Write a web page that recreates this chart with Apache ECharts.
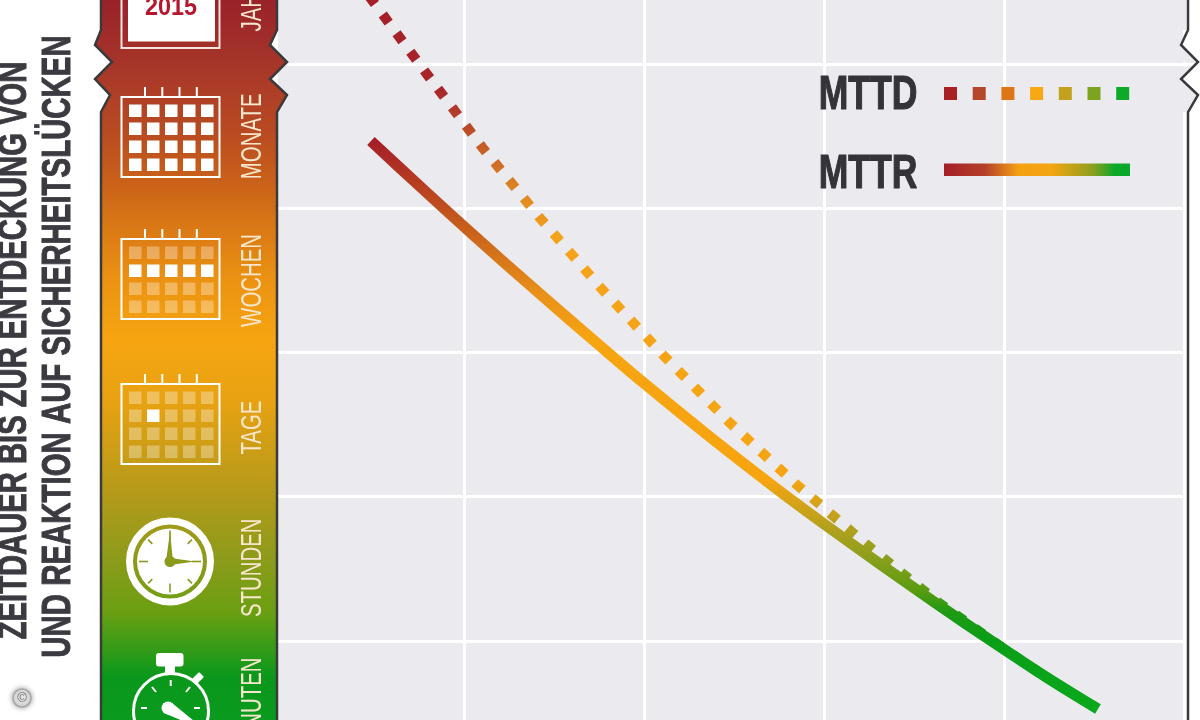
<!DOCTYPE html>
<html>
<head>
<meta charset="utf-8">
<style>html,body{margin:0;padding:0;background:#fff}#c{width:1200px;height:720px}</style>
<script src="https://cdn.jsdelivr.net/npm/echarts@6/dist/echarts.min.js"></script>
</head>
<body>
<div id="c"></div>
<script>
// ---- data ----
const timeLabels = ['MINUTEN', 'STUNDEN', 'TAGE', 'WOCHEN', 'MONATE', 'JAHRE'];
const mttrX = [0.483, 0.756, 1.017, 1.422, 1.756, 1.994, 2.367, 2.739, 3.017, 3.311, 3.628, 3.939, 4.239, 4.522];
const mttrY = [4.467, 4.151, 3.854, 3.406, 3.046, 2.793, 2.414, 2.053, 1.796, 1.533, 1.255, 0.992, 0.745, 0.527];
const mttdX = [0.472, 0.789, 1.100, 1.422, 1.761, 2.111, 2.472, 2.844, 3.233, 3.633, 3.978, 4.256];
const mttdY = [5.473, 4.939, 4.425, 3.933, 3.447, 2.976, 2.518, 2.088, 1.672, 1.269, 0.964, 0.728];
const seriesNames = ['MTTD', 'MTTR'];
const titleLines = ['ZEITDAUER BIS ZUR ENTDECKUNG VON', 'UND REAKTION AUF SICHERHEITSLÜCKEN'];
const calendarYear = '2015';

// ---- helpers ----
const FONT = '"Liberation Sans",sans-serif';
const zip = (a, b) => a.map((v, i) => [v, b[i]]);
const ramp = stops => ({type: 'linear', x: 0, y: 0, x2: 0, y2: 720, global: true,
  colorStops: stops.map(s => ({offset: s[0] / 720, color: s[1]}))});
const barRamp = ramp([[0,'#99222a'],[60,'#a5342a'],[130,'#b84a22'],[190,'#cc6518'],[280,'#eb9212'],[340,'#f6a511'],[400,'#e8a212'],[493,'#b49a1a'],[560,'#8c9b1a'],[613,'#6a9f12'],[677,'#0a981c'],[720,'#0a9a1e']]);
const mttrRamp = ramp([[141,'#a51e28'],[230,'#c8601a'],[293,'#e8901a'],[340,'#f6a511'],[480,'#f6a511'],[530,'#b0a01e'],[559,'#8a9f1c'],[590,'#5a9c10'],[612,'#1f9a14'],[640,'#0a9e16'],[710,'#0aa81c']]);
const mttdRamp = ramp([[0,'#a51e28'],[90,'#a8262a'],[128,'#bb4a28'],[183,'#d98022'],[236,'#f5a31a'],[480,'#f6a511'],[530,'#b0a01e'],[559,'#8a9f1c'],[590,'#5a9c10'],[612,'#1f9a14'],[640,'#0a9e16'],[710,'#0aa81c']]);

const els = [];
const Z = 3;
function rect(x, y, w, h, fill, extra) { els.push(Object.assign({type:'rect', z:Z, shape:{x,y,width:w,height:h}, style:{fill}}, extra||{})); }
function line(x1,y1,x2,y2,stroke,w,z) { els.push({type:'line', z:z||Z, shape:{x1,y1,x2,y2}, style:{stroke,lineWidth:w}}); }
function text(x,y,t,size,fill,opt) { opt=opt||{};
  els.push({type:'text', z:opt.z||Z, x, y, rotation:opt.rot||0, scaleX:opt.sx||1, scaleY:1,
    style:{text:t, fill, font:(opt.w||'bold')+' '+size+'px '+FONT, align:'center', verticalAlign:'middle',
      stroke:opt.sw?fill:null, lineWidth:opt.sw||0}}); }

// plot panel, bar and their torn edges
const panelPts = [[278,-5],[1186,-5],[1186,30],[1179,45],[1196,62],[1179,79],[1196,95],[1186,112],[1186,725],[278,725]];
els.push({type:'polygon', z:-10, shape:{points:panelPts}, style:{fill:'#ebebef'}});
[[0,30],[48,14],[66.5,9],[82,30]].forEach(s=>rect(1182,s[0],4,s[1],'#ebebef',{z:0.5}));
els.push({type:'polyline', z:3, shape:{points:[[1188,-5],[1188,30],[1181,45],[1198,62],[1181,79],[1198,95],[1188,112],[1188,725]]}, style:{stroke:'#3a3a3e',lineWidth:2.5,fill:null}});
els.push({type:'polygon', z:1, shape:{points:[[101,-5],[101,30],[95,45],[112,62],[95,79],[110,95],[101,112],[101,725],[277,725],[277,112],[287,95],[270,79],[287,62],[270,45],[277,30],[277,-5]]},
  style:{fill:barRamp, stroke:'#3a3a3a', lineWidth:2.5}});

// calendars
function calendar(T, alphaFn) {
  els.push({type:'rect', z:Z, shape:{x:121.5,y:T,width:98,height:80}, style:{fill:null,stroke:'#fff',lineWidth:2}});
  [145,162.3,179.5,196.8].forEach(x => line(x,T-10,x,T,'#fff',2));
  for (let r=0;r<4;r++) for (let c=0;c<5;c++)
    rect(129+18*c, T+7.5+18*r, 12.5, 12.5, '#fff', {style:{fill:'#fff',opacity:alphaFn(r,c)}});
}
calendar(97, () => 1);
calendar(239, r => r===1 ? 1 : 0.32);
calendar(384, (r,c) => (r===1&&c===1) ? 1 : 0.32);

// year calendar, cropped by the top edge
els.push({type:'rect', z:Z, shape:{x:121.5,y:-20,width:98,height:68}, style:{fill:null,stroke:'#f6e4e0',lineWidth:2}});
rect(128,-20,87,61.5,'#fff');
text(171,7.5,calendarYear,26,'#b5182e',{sx:0.9});

// clock
const cx=170, cy=561.5, olive='#8b9a1b';
els.push({type:'circle', z:Z, shape:{cx,cy,r:40.5}, style:{fill:null,stroke:'#fff',lineWidth:7}});
els.push({type:'circle', z:Z, shape:{cx,cy,r:33}, style:{fill:'#fff'}});
for (let i=0;i<8;i++){const a=i*Math.PI/4, r0=(i%2)?25:22;
  line(cx+r0*Math.sin(a),cy-r0*Math.cos(a),cx+31*Math.sin(a),cy-31*Math.cos(a),olive,1.6);}
els.push({type:'polygon', z:Z, shape:{points:[[cx-4,cy],[cx,cy-30],[cx+3,cy]]}, style:{fill:olive}});
els.push({type:'polygon', z:Z, shape:{points:[[cx,cy-3.5],[cx+25,cy],[cx,cy+3.5]]}, style:{fill:olive}});
els.push({type:'circle', z:Z, shape:{cx,cy,r:5.5}, style:{fill:olive}});

// stopwatch, cropped by the bottom edge
const sx=171, sy=711;
rect(156,653,27.5,13.5,'#fff',{shape:{x:156,y:653,width:27.5,height:13.5,r:3}});
rect(165,666,10,7,'#fff');
els.push({type:'circle', z:Z, shape:{cx:sx,cy:sy,r:37.5}, style:{fill:null,stroke:'#fff',lineWidth:3}});
rect(-5,-3.5,10,7,'#fff',{x:198,y:678,rotation:Math.PI/4,shape:{x:-5,y:-3.5,width:10,height:7,r:1}});
[[170.7,680,170.7,686],[152,687,156,692],[190,687,186,692],[141,708,147,708],[194,708,200,708]].forEach(s=>line(s[0],s[1],s[2],s[3],'#fff',2));
els.push({type:'polygon', z:Z, shape:{points:[[163,703],[172,703],[194,721],[190,724],[164,713]]}, style:{fill:'#fff'}});
els.push({type:'circle', z:Z, shape:{cx:168,cy:708,r:6.5}, style:{fill:'#fff'}});

// axis title
text(15,350.5,titleLines[0],40,'#3a3a40',{rot:Math.PI/2,sx:0.73,sw:1});
text(59,346.5,titleLines[1],40,'#3a3a40',{rot:Math.PI/2,sx:0.735,sw:1});

// legend
text(868,95.5,seriesNames[0],48,'#333338',{sx:0.74,sw:1.2});
text(868,174.5,seriesNames[1],48,'#333338',{sx:0.74,sw:1.2});
const swatches=['#a81f24','#b5462a','#dd7616','#f7a813','#c4a11d','#7ea31e','#0daa2a'];
swatches.forEach((c,i)=>rect(944+28.7*i,87,13,13,c));
els.push({type:'rect', z:Z, shape:{x:944,y:163.5,width:186,height:12.5}, style:{fill:{type:'linear',x:0,y:0,x2:1,y2:0,
  colorStops:[{offset:0,color:'#a51e28'},{offset:0.22,color:'#b5402a'},{offset:0.4,color:'#f4a012'},{offset:0.58,color:'#f4a512'},{offset:0.8,color:'#8d9f1f'},{offset:0.92,color:'#0aa828'},{offset:1,color:'#0aa828'}]}}});

// copyright mark
els.push({type:'circle', z:Z, shape:{cx:22,cy:698,r:9}, style:{fill:'#e4e4e4',stroke:'#a8a8a8',lineWidth:1.5,shadowBlur:5,shadowColor:'#999'}});
els.push({type:'text', z:Z, x:22, y:698, style:{text:'©',fill:'#666',font:'13px "Liberation Sans"',align:'center',verticalAlign:'middle'}});

const labelNudge = [-9, -1, 3, 0, 0, 6];
const option = {
  animation:false,
  backgroundColor:'#fff',
  grid:{left:284, top:-80, width:918, height:865, containLabel:false, outerBoundsMode:'none'},
  xAxis:{type:'value', min:0, max:5.1, interval:1,
    axisLine:{show:false}, axisTick:{show:false}, axisLabel:{show:false},
    splitLine:{show:true, showMinLine:false, lineStyle:{color:'#fff',width:3}}},
  yAxis:[
    {type:'value', min:0, max:6, interval:1,
      axisLine:{show:false}, axisLabel:{show:false},
      axisTick:{show:true,length:6,lineStyle:{color:'#fff',width:3}},
      splitLine:{show:true, lineStyle:{color:'#fff',width:3}}},
    {type:'category', position:'left', data:timeLabels, boundaryGap:true,
      axisLine:{show:false}, axisTick:{show:false}, splitLine:{show:false}, axisLabel:{show:false}}
  ],
  series:[
    {name:seriesNames[0], type:'line', z:2, data:zip(mttdX,mttdY), showSymbol:false, symbol:'none', clip:false,
      lineStyle:{color:mttdRamp, width:10, type:[10,13.15], cap:'butt', join:'round'}},
    {name:seriesNames[1], type:'line', z:3, data:zip(mttrX,mttrY), showSymbol:false, symbol:'none', clip:false, smooth:0.3,
      lineStyle:{color:mttrRamp, width:11, cap:'butt', join:'round'}},
    // time-scale labels: one per category of the y axis, squeezed to the condensed look
    {type:'custom', z:6, xAxisIndex:0, yAxisIndex:1, coordinateSystem:'cartesian2d', clip:false, silent:true,
      data:timeLabels.map((t,i)=>[0,i]),
      encode:{x:0,y:1},
      renderItem:(p,api)=>{const i=api.value(1), c=api.coord([0,i]);
        return {type:'text', x:c[0]-31.5, y:c[1]+labelNudge[i], rotation:Math.PI/2, scaleX:0.68, scaleY:1,
          style:{text:timeLabels[i], fill:'#f6e6cc', font:'30px '+FONT, align:'center', verticalAlign:'middle'}};}}
  ],
  graphic:{elements:els}
};
echarts.init(document.getElementById('c'),null,{renderer:'canvas'}).setOption(option);
</script>
</body>
</html>
